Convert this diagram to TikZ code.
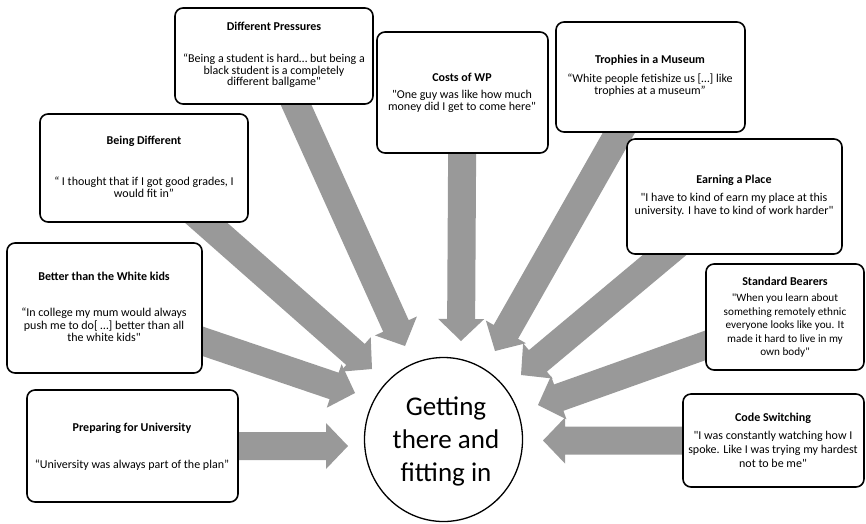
\documentclass[tikz,border=0pt]{standalone}
\usepackage{fontspec}
\setmainfont{Carlito}[Ligatures=TeXOff]
\usetikzlibrary{calc,shapes.geometric}
\pgfdeclarelayer{bg}
\pgfsetlayers{bg,main}
\definecolor{arrowgray}{RGB}{153,153,153}
\newcommand\blockarrow[3]{%
  \coordinate (#3b) at ($(#2)!22pt!(#1)$);
  \fill[arrowgray] ($(#1)!14pt!90:(#2)$) -- ($(#3b)!14pt!-90:(#1)$) -- ($(#3b)!23pt!-90:(#1)$) -- (#2)
    -- ($(#3b)!23pt!90:(#1)$) -- ($(#3b)!14pt!90:(#1)$) -- ($(#1)!14pt!-90:(#2)$) -- cycle;
}
\tikzset{
  box/.style={draw, line width=1.6pt, rounded corners=8pt, fill=white, inner sep=0pt},
  ttl/.style={font=\fontsize{12}{14}\selectfont\bfseries, align=center, inner sep=0pt},
  qt/.style={font=\fontsize{12}{#1}\selectfont, align=center, inner sep=0pt},
  qt/.default=13,
  hub/.style={draw, line width=1.3pt, ellipse, fill=white, inner sep=0pt, minimum width=158pt, minimum height=164pt}
}
\begin{document}
\begin{tikzpicture}[x=1pt,y=-1pt]
\useasboundingbox (0,0) rectangle (866,523);
\begin{pgfonlayer}{bg}
\fill[white] (0,0) rectangle (866,523);
\end{pgfonlayer}

% boxes
\node[box, minimum width=198pt, minimum height=96pt] (dp) at (274,56) {};
\node[ttl] (dpT) at (274,26) {Different Pressures};
\node[qt=11.5] (dpQ) at (274,71) {“Being a student is hard… but being a\\black student is a completely\\different ballgame"};

\node[box, minimum width=171pt, minimum height=121pt] (costs) at (462.5,92.5) {};
\node[ttl] (costsT) at (462,77) {Costs of WP};
\node[qt=12.7] (costsQ) at (462,101.5) {"One guy was like how much\\money did I get to come here"};

\node[box, minimum width=189pt, minimum height=110pt] (troph) at (650.5,77) {};
\node[ttl] (trophT) at (650,60) {Trophies in a Museum};
\node[qt=12.3] (trophQ) at (650,85) {“White people fetishize us […] like\\trophies at a museum”};

\node[box, minimum width=208pt, minimum height=108pt] (bd) at (144,168) {};
\node[ttl] (bdT) at (144,141) {Being Different};
\node[qt=11.7] (bdQ) at (144,187.5) {“ I thought that if I got good grades, I\\would fit in”};

\node[box, minimum width=215pt, minimum height=115pt] (earn) at (734.5,196.5) {};
\node[ttl] (earnT) at (734,180) {Earning a Place};
\node[qt=13.5] (earnQ) at (734,205) {"I have to kind of earn my place at this\\university. I have to kind of work harder"};

\node[box, minimum width=195pt, minimum height=130pt] (better) at (104.5,308) {};
\node[ttl] (betterT) at (104,276) {Better than the White kids};
\node[qt=12.3] (betterQ) at (104,325) {“In college my mum would always\\push me to do[ …] better than all\\the white kids"};

\node[box, minimum width=158pt, minimum height=106pt] (std) at (785,317) {};
\node[ttl] (stdT) at (785,281) {Standard Bearers};
\node[qt=13.5, font=\fontsize{11.2}{13.5}\selectfont] (stdQ) at (785,326) {"When you learn about\\something remotely ethnic\\everyone looks like you. It\\made it hard to live in my\\own body"};

\node[box, minimum width=211pt, minimum height=112pt] (prep) at (132.5,446) {};
\node[ttl] (prepT) at (132,428) {Preparing for University};
\node[qt] (prepQ) at (132,465) {“University was always part of the plan”};

\node[box, minimum width=181pt, minimum height=93pt] (code) at (773.5,440.5) {};
\node[ttl] (codeT) at (773,418) {Code Switching};
\node[qt=14] (codeQ) at (773,449.5) {"I was constantly watching how I\\spoke. Like I was trying my hardest\\not to be me"};

% hub
\node[hub] (hub) at (443.5,439.5) {};
\node[font=\fontsize{27}{33}\selectfont, align=center, inner sep=0pt] (hubT) at (446,441) {Getting\\there and\\fitting in};

% arrow tips
\coordinate (tDP) at (405,346);
\coordinate (tCosts) at (461,341);
\coordinate (tTroph) at (495,351);
\coordinate (tBD) at (372,369);
\coordinate (tEarn) at (521,375);
\coordinate (tBetter) at (355,393);
\coordinate (tStd) at (538,405);
\coordinate (tPrep) at (348,446);
\coordinate (tCode) at (543,440.5);

\begin{pgfonlayer}{bg}
\blockarrow{dp.center}{tDP}{a1}
\blockarrow{costs.center}{tCosts}{a2}
\blockarrow{troph.center}{tTroph}{a3}
\blockarrow{bd.center}{tBD}{a4}
\blockarrow{earn.center}{tEarn}{a5}
\blockarrow{better.center}{tBetter}{a6}
\blockarrow{std.center}{tStd}{a7}
\blockarrow{prep.center}{tPrep}{a8}
\blockarrow{code.center}{tCode}{a9}
\end{pgfonlayer}
\end{tikzpicture}
\end{document}
